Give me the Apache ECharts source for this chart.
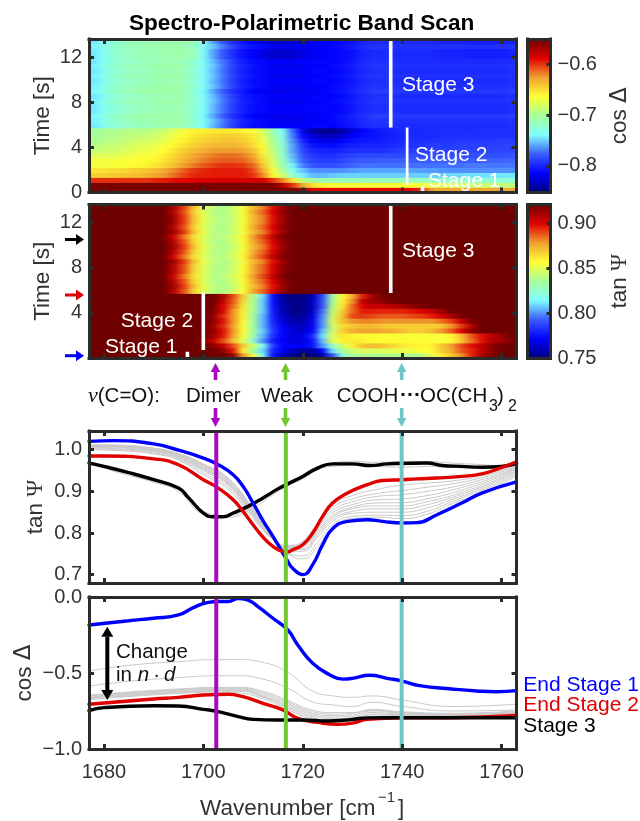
<!DOCTYPE html>
<html><head><meta charset="utf-8">
<style>html,body{margin:0;padding:0;background:#fff}#c{width:640px;height:821px}
canvas[data-zr-dom-id="zr_1"]{filter:url(#hb);clip-path:path("M89 39H516.5V192.5H89Z M89 204.5H516.5V358H89Z")}
</style>
<script src="https://cdn.jsdelivr.net/npm/echarts@6/dist/echarts.min.js"></script>
</head><body>
<svg width="0" height="0" style="position:absolute"><filter id="hb" x="0" y="0" width="100%" height="100%" color-interpolation-filters="sRGB"><feGaussianBlur stdDeviation="3.5 0.6"/><feComponentTransfer><feFuncA type="linear" slope="50"/></feComponentTransfer></filter></svg>
<div id="c"></div>
<script>
// ---------- data ----------
const wavenumberCols = [1678,1680,1682,1684,1686,1688,1690,1692,1694,1696,1698,1700,1702,1704,1706,1708,1710,1712,1714,1716,1718,1720,1722,1724,1726,1728,1730,1732,1734,1736,1738,1740,1742,1744,1746,1748,1750,1752,1754,1756,1758,1760,1762];
const timeRows = [0.22,0.66,1.1,1.54,1.98,2.42,2.86,3.3,3.74,4.18,4.62,5.06,5.5,5.94,6.38,6.82,7.26,7.7,8.14,8.58,9.02,9.46,9.9,10.34,10.78,11.22,11.66,12.1,12.54,12.98,13.42];

// cos Delta heat map, values are -cosDelta x 1000, one row per time step
const cosS3A=[745,735,725,720,717,715,712,712,710,713,722,738,755,772,790,802,810,812,815,815,815,815,813,812,815,810,805,798,795,795,795,797,797,797,797,797,797,797,797,797,797,797,795];
const cosS3B=[742,732,722,716,713,712,710,708,708,710,720,735,752,770,788,800,808,812,818,820,820,818,815,815,812,808,803,797,793,793,793,795,795,795,795,795,795,795,795,795,795,795,793];
const cosS3C=[745,735,724,718,715,712,712,710,708,708,712,735,760,780,795,808,815,822,828,830,828,822,818,815,815,810,808,800,797,797,797,798,798,798,798,800,800,800,802,802,802,802,800];
const cosS3D=[740,730,720,714,710,708,706,706,708,712,722,740,760,778,795,805,815,818,820,820,820,818,816,814,812,806,800,795,790,790,790,792,792,792,792,792,792,792,792,792,792,792,790];
const cosDeltaRows = [
[555,555,555,555,555,555,555,555,555,555,555,555,555,555,555,555,555,555,555,555,555,565,590,590,590,590,590,590,590,590,590,590,590,600,630,630,630,630,630,630,630,630,630],
[555,555,555,555,555,555,555,555,555,555,555,555,555,555,555,555,555,555,555,575,600,630,650,660,665,665,665,665,665,665,665,665,665,668,672,675,680,680,685,685,688,690,690],
[600,600,600,600,600,600,598,595,592,590,588,585,585,585,585,585,585,585,600,620,655,690,703,710,710,712,712,712,712,712,712,712,712,714,716,718,720,720,722,722,722,724,724],
[645,645,642,640,638,635,630,625,615,605,598,596,595,595,595,595,600,620,660,682,720,742,755,755,752,750,750,750,750,750,750,750,750,750,750,750,748,748,746,746,745,745,745],
[655,652,650,648,645,642,638,632,622,612,602,598,595,595,595,595,605,630,665,700,732,752,765,765,765,765,762,760,760,760,760,760,760,762,762,764,765,765,765,765,765,765,765],
[668,668,665,665,662,660,655,648,638,628,618,610,605,600,600,602,612,640,675,710,742,768,780,782,782,778,775,772,772,772,772,772,772,772,772,772,772,772,770,770,770,770,770],
[670,668,668,666,664,662,660,655,645,635,625,618,612,610,610,612,622,650,680,715,750,775,787,790,790,785,780,778,778,776,776,776,776,776,776,776,776,776,776,776,775,775,775],
[678,678,676,674,670,668,665,658,648,638,630,624,618,615,615,618,628,655,685,720,755,780,792,795,795,790,787,785,785,785,785,785,782,782,782,782,782,782,782,782,782,782,780],
[688,686,684,680,676,672,670,664,654,645,638,632,626,625,625,628,638,660,690,720,760,785,797,800,802,798,795,795,795,795,792,790,790,790,788,788,788,786,786,786,786,786,786],
[692,690,688,685,680,676,675,668,660,652,645,640,636,635,635,638,648,665,695,725,760,790,806,810,810,805,802,800,800,800,797,795,795,792,790,790,790,788,788,788,788,788,786],
[698,696,692,690,685,682,680,674,666,658,650,647,643,640,640,643,652,670,700,725,765,800,816,820,820,815,808,805,805,802,800,798,795,795,795,793,793,792,792,792,792,790,790],
[702,700,696,694,690,688,686,680,672,663,655,652,648,645,646,648,656,675,705,730,770,810,826,835,835,830,815,810,808,805,802,800,798,798,798,796,796,795,795,795,795,795,795],
[703,700,698,696,694,694,692,686,677,668,660,658,655,655,656,658,665,680,710,735,775,820,840,848,848,840,825,815,808,803,800,798,798,798,796,796,796,796,796,795,795,795,795],
cosS3A,cosS3B,cosS3D,cosS3A,cosS3A,cosS3B,cosS3A,cosS3D,cosS3B,cosS3A,cosS3B,cosS3A,cosS3B,cosS3A,cosS3C,cosS3C,cosS3B,cosS3C];

// tan Psi heat map, values are tanPsi x 1000
const tanS3A=[960,960,960,955,950,945,940,925,908,890,868,850,840,838,845,856,875,886,900,915,930,940,950,960,965,965,965,965,965,965,965,965,965,965,965,965,965,965,965,965,965,965,965];
const tanS3B=[960,960,960,955,950,945,940,930,912,893,872,852,842,838,843,855,872,882,898,912,928,940,950,960,965,965,965,965,965,965,965,965,965,965,965,965,965,965,965,965,965,965,965];
const tanS3C=[960,960,955,950,945,940,932,920,903,885,865,850,840,840,847,858,878,890,905,918,932,940,950,960,965,965,965,965,965,965,965,965,965,965,965,965,965,965,965,965,965,965,965];
const tanPsiRows = [
[950,950,950,950,950,950,950,950,950,950,940,935,930,925,915,880,855,815,775,760,752,750,750,755,790,820,835,838,838,838,838,838,838,840,850,860,870,880,895,910,918,925,930],
[950,950,950,950,950,950,950,950,950,950,940,935,925,915,897,860,835,810,780,770,760,755,755,770,810,835,845,848,848,850,850,852,853,856,858,868,876,888,895,905,915,922,930],
[950,950,950,950,950,950,950,950,950,950,935,925,915,905,890,868,845,815,785,772,772,770,775,800,825,845,860,870,872,870,866,862,860,858,860,870,878,890,898,906,915,925,935],
[950,950,950,950,950,950,950,950,950,945,930,915,905,890,872,850,825,800,778,770,766,766,775,805,850,860,862,860,858,858,858,858,858,858,856,855,858,870,885,897,908,912,918],
[950,950,950,950,950,950,950,950,950,948,940,925,912,897,878,855,830,805,782,772,766,768,780,810,848,862,860,858,858,856,856,855,855,855,855,855,860,872,888,898,905,912,925],
[950,950,950,950,950,950,950,950,950,948,945,930,915,898,880,858,835,808,785,772,764,762,772,805,845,868,875,878,878,876,875,872,868,868,872,880,888,900,915,925,935,940,940],
[950,950,950,950,950,950,950,950,950,948,945,928,912,895,878,855,835,805,783,770,762,760,770,800,845,865,870,872,872,870,868,868,868,868,868,870,880,892,908,920,930,940,945],
[950,950,950,950,950,950,950,950,950,950,948,930,915,898,880,858,835,805,780,765,758,757,768,800,848,872,880,882,882,880,880,880,880,880,880,885,892,905,918,930,940,945,950],
[950,950,950,950,950,950,950,950,950,950,950,935,915,895,880,860,835,805,778,762,755,755,765,798,845,870,890,892,890,888,888,888,890,892,896,902,910,920,930,940,945,950,950],
[950,950,950,950,950,950,950,950,950,950,950,935,918,900,880,860,838,808,778,760,752,752,762,795,842,868,885,896,896,895,895,895,897,900,905,912,920,930,940,945,950,950,950],
[950,950,950,950,950,950,950,950,950,950,950,938,920,900,885,862,838,808,775,758,752,752,760,790,838,862,885,900,905,905,908,910,915,920,925,932,940,945,950,950,950,950,950],
[950,950,950,950,950,950,950,950,950,950,950,940,925,905,888,865,838,808,775,757,752,752,760,790,835,860,880,905,912,915,920,925,932,940,945,950,950,950,950,950,950,950,950],
[950,950,950,950,950,950,950,950,950,950,955,945,930,910,890,868,840,810,775,755,750,750,758,788,832,858,875,895,910,920,930,945,950,950,950,950,950,950,950,950,950,950,950],
tanS3A,tanS3B,tanS3A,tanS3C,tanS3A,tanS3A,tanS3B,tanS3C,tanS3A,tanS3B,tanS3A,tanS3C,tanS3B,tanS3A,tanS3B,tanS3B,tanS3A,tanS3B];

// tan Psi spectra
const tanBlueX=[1677,1682,1690,1695,1700,1703,1706,1708,1710,1712,1714,1716,1717,1718,1720,1722,1724,1726,1729,1733,1736,1740,1743,1747,1752,1756,1763];
const tanBlue=[1.02,1.022,1.014,.999,.98,.964,.94,.912,.872,.83,.792,.752,.732,.715,.70,.724,.772,.81,.828,.832,.828,.824,.825,.844,.872,.896,.923];
const tanRedX=[1677,1680,1690,1695,1700,1703,1706,1708,1710,1712,1714,1716,1717,1718,1720,1722,1724,1726,1729,1733,1736,1740,1743,1747,1752,1756,1760,1763];
const tanRed=[.985,.985,.978,.964,.928,.908,.88,.852,.82,.79,.768,.756,.755,.76,.772,.80,.84,.872,.896,.916,.926,.928,.93,.932,.936,.942,.957,.971];
const tanBlackX=[1677,1680,1685,1690,1695,1697,1700,1702,1704,1706,1709,1712,1715,1717,1720,1723,1726,1730,1733.5,1737,1740,1745,1748,1752,1756,1760,1763];
const tanBlack=[.968,.96,.945,.928,.908,.885,.848,.839,.839,.848,.864,.884,.906,.918,.936,.956,.966,.966,.962,.966,.967,.968,.962,.96,.958,.96,.967];
const tanGreyX=[1677,1683,1690,1695,1700,1705,1710,1714,1717,1720,1723,1726,1730,1735,1740,1745,1750,1755,1760,1763];
const tanGrey=[
[1.0,.998,.99,.975,.94,.905,.835,.785,.77,.78,.825,.868,.89,.905,.915,.92,.925,.935,.95,.965],
[1.002,1,.992,.978,.945,.91,.84,.785,.768,.778,.82,.862,.882,.895,.902,.91,.918,.93,.947,.962],
[1.004,1.002,.995,.98,.95,.915,.842,.785,.768,.775,.815,.855,.875,.888,.892,.9,.91,.925,.943,.96],
[1.005,1.004,.996,.982,.952,.918,.845,.787,.765,.77,.81,.848,.868,.88,.882,.89,.903,.92,.94,.957],
[1.007,1.006,.998,.984,.955,.92,.847,.787,.763,.768,.805,.842,.862,.872,.873,.882,.896,.915,.937,.955],
[1.008,1.007,.999,.985,.957,.922,.85,.787,.76,.763,.8,.838,.858,.865,.865,.875,.89,.91,.933,.952],
[1.009,1.008,1,.987,.96,.925,.852,.788,.76,.76,.795,.833,.852,.858,.858,.868,.885,.906,.93,.95],
[1.01,1.009,1.002,.988,.962,.927,.855,.788,.757,.756,.79,.828,.847,.85,.85,.86,.88,.902,.926,.947],
[1.011,1.01,1.003,.99,.964,.93,.857,.79,.752,.745,.778,.82,.84,.843,.842,.852,.875,.898,.922,.943],
[1.012,1.011,1.004,.991,.966,.932,.858,.79,.75,.738,.768,.812,.835,.838,.835,.845,.87,.893,.918,.938],
[.972,.95,.925,.905,.852,.842,.868,.9,.92,.938,.96,.968,.972,.97,.972,.972,.968,.965,.962,.966],
[.966,.945,.922,.9,.846,.838,.86,.892,.914,.93,.952,.96,.962,.96,.958,.96,.958,.955,.956,.962]];

// cos Delta spectra
const cosBlueX=[1677,1685,1690,1695,1698,1701,1703,1705,1707,1709,1711,1714,1717,1719,1722,1725.5,1728,1730,1733.5,1737,1740,1743.5,1750,1755,1759,1763];
const cosBlue=[-.184,-.156,-.14,-.118,-.07,-.035,-.03,-.03,-.01,-.02,-.064,-.14,-.217,-.316,-.436,-.513,-.54,-.535,-.515,-.535,-.553,-.583,-.605,-.618,-.623,-.616];
const cosRedX=[1677,1685,1690,1695,1700,1705,1708,1712,1716,1719,1723,1727,1730,1733,1740,1750,1763];
const cosRed=[-.706,-.684,-.671,-.66,-.645,-.64,-.656,-.70,-.743,-.798,-.825,-.838,-.83,-.805,-.794,-.794,-.78];
const cosBlackX=[1677,1680,1690,1695,1700,1703,1707,1710,1715,1720,1725,1730,1733,1740,1750,1763];
const cosBlack=[-.748,-.728,-.715,-.717,-.739,-.754,-.787,-.805,-.809,-.809,-.816,-.805,-.795,-.794,-.794,-.794];
const cosGreyX=[1677,1685,1695,1703,1707,1712,1717,1722,1726,1730,1734,1740,1750,1763];
const cosGrey=[
[-.487,-.45,-.425,-.412,-.412,-.43,-.496,-.62,-.65,-.66,-.651,-.678,-.72,-.706],
[-.586,-.555,-.53,-.518,-.518,-.54,-.60,-.69,-.71,-.72,-.693,-.72,-.75,-.743],
[-.645,-.625,-.605,-.595,-.595,-.62,-.68,-.745,-.76,-.76,-.74,-.755,-.765,-.75],
[-.65,-.63,-.61,-.60,-.60,-.63,-.69,-.755,-.77,-.765,-.745,-.76,-.77,-.755],
[-.655,-.635,-.615,-.605,-.605,-.64,-.70,-.765,-.78,-.775,-.75,-.765,-.775,-.76],
[-.66,-.64,-.62,-.61,-.61,-.65,-.71,-.775,-.79,-.785,-.76,-.77,-.775,-.762],
[-.665,-.645,-.625,-.615,-.615,-.655,-.72,-.785,-.80,-.795,-.77,-.775,-.78,-.765],
[-.67,-.65,-.63,-.62,-.62,-.66,-.73,-.795,-.81,-.805,-.775,-.78,-.785,-.77],
[-.675,-.655,-.635,-.625,-.63,-.67,-.74,-.805,-.82,-.815,-.785,-.785,-.79,-.775]];

const bandX = [1702.6,1716.6,1739.9];
const xTicks = [1680,1700,1720,1740,1760];
const timeTicks = [0,4,8,12];
const timeLabelsTop = [0,4,8,12];
const timeLabelsLower = [4,8,12];
const tanTicks = [0.7,0.8,0.9,1.0];
const cosTicks = [-1,-0.5,0];
const cosBarTicks = [-0.8,-0.7,-0.6];
const tanBarTicks = [0.75,0.8,0.85,0.9];
// white stage marks: [wavenumber, time from, time to]
const cosStageMarks = [[1737.7,5.75,13.6],[1741,0.66,5.75],[1744.1,0,0.55]];
const tanStageMarks = [[1737.7,5.75,13.6],[1700,0.7,5.8],[1696.8,0,0.55]];

// ---------- styling ----------
const FONT='"Liberation Sans"', INK='#333333', FRAME='#2b2b2b';
const PURPLE='#a908bf', GREEN='#72c82e', TEAL='#70c6c6', RED='#e00000', BLUE='#0000ff';
const COLORS=['#00007f','#0000ff','#3a5cff','#7fffff','#a6ff9a','#ffff33','#f0a030','#e00000','#6f0000'];
const XR=[1677,1763];
const G=[{top:39,h:153.5},{top:204.5,h:153.5},{top:431,h:152},{top:597,h:152}];
const L=89,W=427.5,BL=527.5,BW=23;

const grids=[],xAxes=[],yAxes=[],series=[];
const fmtMinus=d=>v=>v.toFixed(d).replace('-','\u2212');
function ax(dim,gi,pos,min,max,ticks,opt){opt=opt||{};
  const a={type:'value',gridIndex:gi,position:pos,min,max,z:6,zlevel:2,silent:true,
    axisLine:{show:true,onZero:false,lineStyle:{color:FRAME,width:3,cap:'square'}},
    axisTick:{show:!!ticks.length,inside:true,length:opt.tick||5,customValues:ticks,lineStyle:{color:FRAME,width:3}},
    axisLabel:{show:!!opt.fmt,customValues:opt.labels||ticks,formatter:opt.fmt,color:INK,fontFamily:FONT,fontSize:20,margin:opt.margin||7},
    splitLine:{show:false}};
  if(opt.name){a.name=opt.name;a.nameLocation='middle';a.nameGap=opt.gap;a.nameRotate=90;a.nameMoveOverlap=false;
    a.nameTextStyle={color:INK,fontFamily:FONT,fontSize:22.5,rich:{g:{fontFamily:'"Liberation Serif"',fontSize:23,color:INK},d:{fontFamily:'"DejaVu Sans"',fontSize:23,color:INK}}};}
  (dim==='x'?xAxes:yAxes).push(a);return (dim==='x'?xAxes:yAxes).length-1;
}
function panel(gi,yr,yTicks,yOpt,xOpt){
  grids.push({left:L,width:W,top:G[gi].top,height:G[gi].h,containLabel:false});
  const x=ax('x',gi,'bottom',XR[0],XR[1],xTicks,xOpt||{});ax('x',gi,'top',XR[0],XR[1],xTicks);
  const y=ax('y',gi,'left',yr[0],yr[1],yTicks,yOpt);ax('y',gi,'right',yr[0],yr[1],yTicks);
  return {x,y};
}
function heat(gi,rows,factor,vr,a,stage){
  xAxes.push({type:'category',gridIndex:gi,data:wavenumberCols,show:false});
  yAxes.push({type:'category',gridIndex:gi,data:timeRows,show:false});
  const d=[];rows.forEach((r,j)=>r.forEach((v,i)=>d.push([i,j,Math.max(vr[0],Math.min(vr[1],v*factor))])));
  series.push({type:'heatmap',xAxisIndex:xAxes.length-1,yAxisIndex:yAxes.length-1,data:d,progressive:0,itemStyle:{borderWidth:0},emphasis:{disabled:true},silent:true,z:1,zlevel:1});
  const idx=series.length-1;
  stage.forEach((m,k)=>series.push({type:'line',xAxisIndex:a.x,yAxisIndex:a.y,data:[[m[0],m[1]],[m[0],m[2]]],showSymbol:false,silent:true,z:3,zlevel:2,
    lineStyle:{color:'#fff',width:(gi===0&&k===1)?2.7:3.6,cap:'butt'}}));
  return idx;
}
function colorbar(gi,vr,ticks,fmt,name){
  const n=grids.length;
  grids.push({left:BL,width:BW,top:G[gi].top,height:G[gi].h});
  ax('x',n,'bottom',0,1,[]);ax('x',n,'top',0,1,[]);
  ax('y',n,'left',vr[0],vr[1],[]);
  ax('y',n,'right',vr[0],vr[1],ticks,{fmt,margin:7,tick:4,name,gap:58});
}
function lines(a,xs,ys,color,width,z){
  series.push({type:'line',xAxisIndex:a.x,yAxisIndex:a.y,data:xs.map((x,i)=>[x,ys[i]]),showSymbol:false,smooth:0.5,silent:true,z,
    lineStyle:{color,width,cap:'round',join:'round'}});
}

// panels
const p0=panel(0,[0,13.6],timeTicks,{fmt:v=>String(v),labels:timeLabelsTop,name:'Time [s]',gap:35});
const p1=panel(1,[0,13.6],timeTicks,{fmt:v=>String(v),labels:timeLabelsLower,name:'Time [s]',gap:35});
const p2=panel(2,[0.68,1.045],tanTicks,{fmt:v=>v.toFixed(1),name:'tan {g|\u03A8}',gap:42});
const p3=panel(3,[-1,0],cosTicks,{fmt:fmtMinus(1),name:'cos {d|\u0394}',gap:53},{fmt:v=>String(v),margin:13});

const cosVR=[-0.852,-0.551], tanVR=[0.75,0.921];
const hCos=heat(0,cosDeltaRows,-0.001,cosVR,p0,cosStageMarks);
const hTan=heat(1,tanPsiRows,0.001,tanVR,p1,tanStageMarks);

tanGrey.forEach(g=>lines(p2,tanGreyX,g,'#c8c8c8',1,2));
lines(p2,tanBlackX,tanBlack,'#000000',3.4,3);
lines(p2,tanBlueX,tanBlue,BLUE,3.4,3);
lines(p2,tanRedX,tanRed,RED,3.4,4);
cosGrey.forEach(g=>lines(p3,cosGreyX,g,'#c8c8c8',1,2));
lines(p3,cosRedX,cosRed,RED,3.4,3);
lines(p3,cosBlackX,cosBlack,'#000000',3.4,4);
lines(p3,cosBlueX,cosBlue,BLUE,3.4,4);
[PURPLE,GREEN,TEAL].forEach((c,i)=>{
  series.push({type:'line',xAxisIndex:p2.x,yAxisIndex:p2.y,data:[[bandX[i],0.68],[bandX[i],1.045]],showSymbol:false,silent:true,z:5,lineStyle:{color:c,width:4,cap:'butt'}});
  series.push({type:'line',xAxisIndex:p3.x,yAxisIndex:p3.y,data:[[bandX[i],-1],[bandX[i],0]],showSymbol:false,silent:true,z:5,lineStyle:{color:c,width:4,cap:'butt'}});
});

colorbar(0,cosVR,cosBarTicks,fmtMinus(1),'cos {d|\u0394}');
colorbar(1,tanVR,tanBarTicks,v=>v.toFixed(2),'tan {g|\u03A8}');

const vm=(si,vr,gi)=>({type:'continuous',seriesIndex:si,min:vr[0],max:vr[1],calculable:false,hoverLink:false,realtime:false,
  left:BL,top:G[gi].top,itemWidth:BW,itemHeight:G[gi].h,padding:0,inRange:{color:COLORS},text:null,z:2,orient:'vertical'});

// ---------- annotations ----------
const g=[];
function txt(text,x,y,fill,size,extra){g.push({type:'text',z:50,silent:true,style:Object.assign({text,x,y,fill,fontSize:size||21,fontFamily:FONT,verticalAlign:'middle',align:'left'},extra||{})});}
function arrowV(x,y0,y1,c,w,hw,hl){ // head at y1
  const s=y1>y0?1:-1;
  g.push({type:'rect',z:50,silent:true,shape:{x:x-w/2,y:Math.min(y0,y1-s*hl),width:w,height:Math.abs(y1-s*hl-y0)},style:{fill:c}});
  g.push({type:'polygon',z:50,silent:true,shape:{points:[[x-hw/2,y1-s*hl],[x+hw/2,y1-s*hl],[x,y1]]},style:{fill:c}});
}
function arrowH(y,x0,x1,c){
  g.push({type:'rect',z:50,silent:true,shape:{x:x0,y:y-1.5,width:x1-x0-8,height:3},style:{fill:c}});
  g.push({type:'polygon',z:50,silent:true,shape:{points:[[x1-8,y-5.5],[x1-8,y+5.5],[x1,y]]},style:{fill:c}});
}
txt('Stage 3',402,85,'#fff');txt('Stage 2',415,155,'#fff');txt('Stage 1',428,181,'#fff');
txt('Stage 3',402,251,'#fff');txt('Stage 2',120.7,321,'#fff');txt('Stage 1',105,347.7,'#fff');
arrowH(239.5,65,84,'#000');arrowH(295,65,84,RED);arrowH(355.7,65,84,BLUE);
[[215.5,PURPLE],[285.5,GREEN],[401.7,TEAL]].forEach(([x,c])=>{arrowV(x,380,363,c,3.6,9.5,9);arrowV(x,408,427,c,3.6,9.5,9);});
g.push({type:'text',z:50,silent:true,style:{x:88,y:396,verticalAlign:'middle',text:'{i|\u03BD}{t|(C=O):}',rich:{i:{fontFamily:'"Liberation Serif"',fontStyle:'italic',fontSize:22,fill:'#111'},t:{fontFamily:FONT,fontSize:20.5,fill:'#111'}}}});
txt('Dimer',186,396,'#111',20.5);txt('Weak',261,396,'#111',20.5);
txt('COOH',336.7,396,'#111',20.5);
txt('\u00B7\u00B7\u00B7',400,395,'#111',21,{fontWeight:'bold'});
txt('OC(CH',420,396,'#111',20.5);txt('3',489,407,'#111',16);txt(')',497,396,'#111',20.5);txt('2',508,407,'#111',16);
// panel 4 labels
arrowV(107.3,663,626.7,'#000',4,12,10);arrowV(107.3,663,700,'#000',4,12,10);
txt('Change',116,652.7,'#111',20.5);
g.push({type:'text',z:50,silent:true,style:{x:116,y:675,verticalAlign:'middle',text:'{t|in }{i|n}{t|\u2009\u00B7\u2009}{i|d}',rich:{t:{fontFamily:FONT,fontSize:20.5,fill:'#111'},i:{fontFamily:FONT,fontStyle:'italic',fontSize:20.5,fill:'#111'}}}});
txt('End Stage 1',523.3,685,BLUE);txt('End Stage 2',523.3,705.7,RED);txt('Stage 3',523.3,726.7,'#000');
txt('Wavenumber [cm',200,809,INK,22.5);txt('\u22121',378,798,INK,15);txt(']',398,809,INK,22.5);
g.forEach(e=>e.zlevel=2);

const chart=echarts.init(document.getElementById('c'),null,{renderer:'canvas',width:640,height:821});
chart.setOption({animation:false,backgroundColor:'#fff',
  title:{text:'Spectro-Polarimetric Band Scan',left:129,top:12,padding:0,textStyle:{fontFamily:FONT,fontWeight:'bold',fontSize:22.6,color:'#000'}},
  grid:grids,xAxis:xAxes,yAxis:yAxes,series,
  visualMap:[vm(hCos,cosVR,0),vm(hTan,tanVR,1)],
  graphic:{elements:g}});
</script></body></html>
